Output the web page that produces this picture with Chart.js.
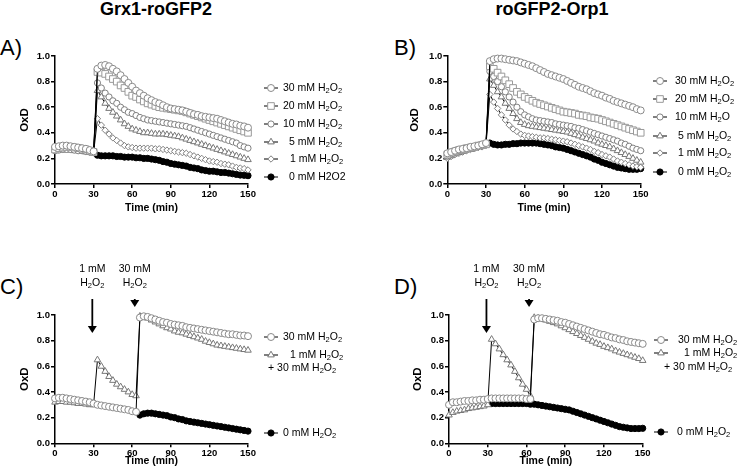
<!DOCTYPE html>
<html>
<head>
<meta charset="utf-8">
<script src="https://cdn.jsdelivr.net/npm/chart.js@4.4.1/dist/chart.umd.min.js"></script>
<style>
  body { margin: 0; background: #fff; }
  #wrap { position: relative; width: 738px; height: 474px; overflow: hidden; font-family: Arial, 'Liberation Sans', sans-serif; color: #000; }
  canvas { position: absolute; }
  .title { position: absolute; top: -1px; font-size: 18px; font-weight: bold; white-space: nowrap; transform: translateX(-50%); }
  .plabel { position: absolute; font-size: 22px; }
</style>
</head>
<body>
<div id="wrap">
  <div class="title" style="left:156px;">Grx1-roGFP2</div>
  <div class="title" style="left:552px;">roGFP2-Orp1</div>
  <div class="plabel" style="left:0px;top:35px;">A)</div>
  <div class="plabel" style="left:394px;top:35px;">B)</div>
  <div class="plabel" style="left:0px;top:274px;">C)</div>
  <div class="plabel" style="left:394px;top:274px;">D)</div>
  <canvas id="chartA" width="369" height="230" style="left:0px;top:0px;"></canvas>
  <canvas id="chartB" width="368" height="230" style="left:370px;top:0px;"></canvas>
  <canvas id="chartC" width="369" height="224" style="left:0px;top:250px;"></canvas>
  <canvas id="chartD" width="368" height="224" style="left:370px;top:250px;"></canvas>
</div>
<script>
// time points (min)
const times = [0,3,6,9,12,15,18,21,24,27,30,33,36,39,42,45,48,51,54,57,60,63,66,69,72,75,78,81,84,87,90,93,96,99,102,105,108,111,114,117,120,123,126,129,132,135,138,141,144,147,150];

// A) Grx1-roGFP2
const a30 = [0.29,0.295,0.30,0.30,0.295,0.29,0.285,0.28,0.275,0.265,0.255,
  0.90,0.925,0.93,0.92,0.90,0.88,0.85,0.82,0.79,0.76,0.73,0.71,0.69,0.67,0.655,0.64,0.63,0.615,0.60,0.59,
  0.585,0.58,0.575,0.565,0.555,0.545,0.54,0.53,0.525,0.52,0.515,0.51,0.50,0.49,0.48,0.47,0.465,0.455,0.45,0.44];
const a20 = [0.27,0.28,0.285,0.29,0.29,0.285,0.28,0.275,0.27,0.26,0.25,
  0.875,0.87,0.86,0.84,0.82,0.80,0.77,0.75,0.72,0.69,0.68,0.66,0.645,0.63,0.62,0.61,0.60,0.595,0.59,0.585,
  0.58,0.575,0.57,0.56,0.55,0.54,0.53,0.52,0.51,0.50,0.49,0.48,0.47,0.46,0.45,0.44,0.43,0.42,0.41,0.40];
const a10 = [0.26,0.265,0.27,0.27,0.27,0.265,0.26,0.26,0.255,0.25,0.245,
  0.79,0.75,0.71,0.68,0.65,0.63,0.60,0.58,0.56,0.55,0.535,0.52,0.51,0.50,0.495,0.49,0.485,0.48,0.475,0.47,
  0.465,0.46,0.455,0.45,0.44,0.43,0.42,0.41,0.40,0.39,0.38,0.37,0.36,0.35,0.34,0.33,0.32,0.30,0.29,0.28];
const a5 = [0.26,0.265,0.265,0.265,0.265,0.26,0.26,0.255,0.25,0.245,0.24,
  0.73,0.68,0.63,0.59,0.56,0.53,0.50,0.47,0.45,0.43,0.42,0.41,0.40,0.40,0.395,0.39,0.39,0.39,0.385,0.38,
  0.375,0.37,0.36,0.35,0.34,0.33,0.32,0.31,0.30,0.29,0.28,0.27,0.26,0.25,0.24,0.23,0.22,0.21,0.20,0.19];
const a1 = [0.265,0.27,0.275,0.275,0.27,0.27,0.265,0.26,0.255,0.25,0.245,
  0.51,0.46,0.42,0.39,0.36,0.34,0.32,0.30,0.29,0.285,0.28,0.28,0.28,0.28,0.28,0.275,0.275,0.27,0.265,0.26,
  0.255,0.25,0.245,0.24,0.23,0.22,0.21,0.20,0.19,0.18,0.175,0.17,0.16,0.155,0.15,0.14,0.13,0.125,0.12,0.11];
const a0 = [null,null,null,null,null,null,null,null,null,null,null,
  0.225,0.22,0.22,0.22,0.22,0.215,0.215,0.21,0.21,0.21,0.205,0.205,0.20,0.20,0.195,0.19,0.185,0.175,0.17,0.16,
  0.155,0.15,0.145,0.14,0.13,0.125,0.12,0.11,0.105,0.10,0.10,0.095,0.09,0.09,0.085,0.08,0.075,0.07,0.068,0.065];

// B) roGFP2-Orp1
const b30 = [0.24,0.25,0.26,0.27,0.275,0.28,0.29,0.295,0.30,0.31,0.32,
  0.96,0.975,0.98,0.98,0.975,0.97,0.965,0.96,0.95,0.94,0.93,0.92,0.905,0.89,0.875,0.86,0.85,0.84,0.83,0.82,
  0.805,0.79,0.775,0.76,0.75,0.74,0.725,0.71,0.70,0.69,0.675,0.665,0.65,0.64,0.63,0.62,0.61,0.60,0.585,0.575];
const b20 = [0.23,0.245,0.255,0.265,0.27,0.28,0.285,0.29,0.30,0.305,0.31,
  0.92,0.90,0.87,0.84,0.81,0.78,0.75,0.72,0.70,0.68,0.665,0.65,0.635,0.625,0.615,0.605,0.595,0.585,0.575,0.565,
  0.56,0.555,0.55,0.54,0.535,0.53,0.52,0.515,0.51,0.50,0.49,0.48,0.47,0.46,0.45,0.44,0.43,0.42,0.41,0.40];
const b10 = [0.22,0.235,0.245,0.255,0.265,0.275,0.28,0.29,0.295,0.30,0.31,
  0.88,0.84,0.80,0.76,0.72,0.68,0.64,0.60,0.565,0.54,0.525,0.51,0.50,0.495,0.49,0.485,0.48,0.47,0.465,0.46,
  0.455,0.45,0.44,0.435,0.425,0.415,0.405,0.395,0.385,0.375,0.365,0.355,0.345,0.335,0.32,0.31,0.295,0.28,0.27,0.26];
const b5 = [0.21,0.22,0.235,0.245,0.255,0.265,0.27,0.28,0.29,0.295,0.30,
  0.82,0.77,0.72,0.68,0.63,0.59,0.55,0.51,0.48,0.465,0.455,0.45,0.445,0.44,0.435,0.43,0.425,0.42,0.415,0.41,
  0.405,0.395,0.385,0.375,0.365,0.355,0.345,0.335,0.32,0.31,0.30,0.29,0.275,0.26,0.245,0.23,0.215,0.20,0.185,0.17];
const b1 = [0.20,0.215,0.23,0.24,0.25,0.26,0.27,0.275,0.285,0.29,0.30,
  0.70,0.64,0.59,0.54,0.50,0.46,0.43,0.41,0.39,0.38,0.375,0.37,0.365,0.36,0.36,0.355,0.35,0.345,0.34,0.335,
  0.33,0.32,0.31,0.30,0.29,0.28,0.27,0.255,0.245,0.23,0.22,0.21,0.195,0.18,0.17,0.16,0.15,0.14,0.135,0.13];
const b0 = [null,null,null,null,null,null,null,null,null,null,null,
  0.32,0.31,0.305,0.305,0.31,0.31,0.315,0.315,0.32,0.32,0.32,0.32,0.32,0.315,0.31,0.305,0.30,0.29,0.285,0.28,
  0.27,0.26,0.25,0.24,0.23,0.22,0.21,0.195,0.185,0.17,0.16,0.15,0.14,0.13,0.125,0.12,0.115,0.115,0.115,0.12];

// C) Grx1-roGFP2, two additions
const c30 = [0.35,0.355,0.355,0.35,0.345,0.34,0.335,0.33,0.325,0.32,0.31,
  0.30,0.295,0.29,0.285,0.28,0.275,0.27,0.265,0.26,0.25,0.245,
  0.98,0.99,0.985,0.975,0.965,0.955,0.945,0.94,0.93,0.925,0.92,0.915,0.905,0.90,0.895,
  0.89,0.885,0.88,0.875,0.87,0.865,0.86,0.855,0.85,0.85,0.845,0.84,0.84,0.835];
const c1p30 = [0.32,0.325,0.325,0.32,0.32,0.315,0.31,0.31,0.305,0.30,0.30,
  0.65,0.60,0.56,0.52,0.49,0.46,0.44,0.42,0.40,0.38,0.37,
  0.99,0.985,0.975,0.96,0.945,0.93,0.915,0.90,0.89,0.875,0.865,0.86,0.85,0.84,0.83,
  0.82,0.81,0.795,0.785,0.775,0.765,0.76,0.755,0.75,0.745,0.74,0.735,0.73,0.725];
const c0 = [null,null,null,null,null,null,null,null,null,null,null,
  null,null,null,null,null,null,null,null,null,null,null,
  0.22,0.23,0.235,0.235,0.23,0.225,0.22,0.215,0.205,0.20,0.19,0.185,0.175,0.17,0.165,
  0.16,0.155,0.15,0.145,0.14,0.135,0.13,0.125,0.12,0.115,0.11,0.105,0.10,0.095];

// D) roGFP2-Orp1, two additions
const d30 = [0.30,0.32,0.32,0.325,0.33,0.33,0.335,0.335,0.34,0.34,0.345,
  0.35,0.35,0.35,0.35,0.35,0.35,0.35,0.35,0.35,0.345,0.345,
  0.965,0.975,0.975,0.97,0.965,0.96,0.955,0.945,0.94,0.93,0.92,0.91,0.90,0.89,0.88,
  0.87,0.86,0.85,0.845,0.835,0.825,0.82,0.81,0.805,0.795,0.79,0.785,0.78,0.775];
const d1p30 = [0.22,0.24,0.25,0.255,0.26,0.27,0.275,0.28,0.285,0.29,0.30,
  0.81,0.775,0.735,0.69,0.65,0.61,0.56,0.51,0.46,0.42,0.37,
  0.98,0.975,0.97,0.96,0.95,0.94,0.93,0.915,0.90,0.885,0.87,0.855,0.84,0.825,0.81,
  0.795,0.78,0.77,0.755,0.745,0.735,0.72,0.71,0.70,0.69,0.68,0.67,0.66,0.645];
const d0 = [null,null,null,null,null,null,null,null,null,null,null,
  0.31,0.31,0.31,0.31,0.31,0.31,0.31,0.31,0.31,0.31,0.305,0.305,0.30,0.295,0.29,0.285,0.28,0.275,0.27,0.265,
  0.26,0.25,0.24,0.23,0.22,0.21,0.20,0.19,0.18,0.17,0.16,0.15,0.14,0.13,0.125,0.12,0.115,0.115,0.115,0.117];

// times of the H2O2 additions marked with arrows in C and D
const arrowTimes = [29, 62];
const arrowText = [['1 mM', 'H₂O₂'], ['30 mM', 'H₂O₂']];

const xTicks = [0, 30, 60, 90, 120, 150];
const yTicks = [0, 0.2, 0.4, 0.6, 0.8, 1.0];

const FONT = "Arial, 'Liberation Sans', sans-serif";
Chart.defaults.font.family = FONT;
Chart.defaults.color = '#000';

// marker styles
const sCircle = { pointStyle: 'circle', pointRadius: 3.5, pointBorderColor: '#8a8a8a', pointBackgroundColor: '#fff' };
const sSquare = { pointStyle: 'rect', pointRadius: 4.7, pointBorderColor: '#999', pointBackgroundColor: '#fff' };
const sCircle2 = { pointStyle: 'circle', pointRadius: 3.1, pointBorderColor: '#808080', pointBackgroundColor: '#fff' };
const sTri = { pointStyle: 'triangle', pointRadius: 3.8, pointBorderColor: '#777', pointBackgroundColor: '#fff' };
const sDia = { pointStyle: 'rectRot', pointRadius: 3.2, pointBorderColor: '#808080', pointBackgroundColor: '#fff' };
const sDot = { pointStyle: 'circle', pointRadius: 3.1, pointBorderColor: '#000', pointBackgroundColor: '#000' };

function series(label, values, style) {
    return Object.assign({
        label: label,
        data: times.map((t, i) => ({ x: t, y: values[i] })),
        borderColor: '#000',
        borderWidth: 1,
        pointBorderWidth: 1,
        pointHoverRadius: 0,
        clip: false,
        spanGaps: false
    }, style);
}

// text with subscript "₂"
function drawRich(ctx, txt, x, y, align) {
    const parts = [];
    for (const ch of txt) {
        const sub = ch === '₂';
        const c = sub ? '2' : ch;
        if (parts.length && parts[parts.length - 1].sub === sub) parts[parts.length - 1].s += c;
        else parts.push({ sub: sub, s: c });
    }
    let w = 0;
    parts.forEach(p => {
        ctx.font = p.sub ? '7.5px ' + FONT : '10.5px ' + FONT;
        p.w = ctx.measureText(p.s).width;
        w += p.w;
    });
    let cx = align === 'center' ? x - w / 2 : x;
    ctx.textAlign = 'left';
    ctx.textBaseline = 'middle';
    ctx.fillStyle = '#000';
    parts.forEach(p => {
        ctx.font = p.sub ? '7.5px ' + FONT : '10.5px ' + FONT;
        ctx.fillText(p.s, cx, p.sub ? y + 3 : y);
        cx += p.w;
    });
}

const sideLegend = {
    id: 'sideLegend',
    afterDraw(chart, args, opts) {
        const ctx = chart.ctx;
        ctx.save();
        opts.items.forEach(it => {
            if (it.ds != null) {
                const ds = chart.data.datasets[it.ds];
                ctx.strokeStyle = '#000';
                ctx.lineWidth = 1;
                ctx.beginPath();
                ctx.moveTo(opts.mx - 7, it.y);
                ctx.lineTo(opts.mx + 7, it.y);
                ctx.stroke();
                ctx.fillStyle = ds.pointBackgroundColor;
                ctx.strokeStyle = ds.pointBorderColor;
                Chart.helpers.drawPoint(ctx, { pointStyle: ds.pointStyle, radius: ds.pointRadius, borderWidth: 1, rotation: 0 }, opts.mx, it.y);
            }
            drawRich(ctx, it.text, it.x, it.y, 'left');
        });
        ctx.restore();
    }
};

const additionArrows = {
    id: 'additionArrows',
    afterDraw(chart, args, opts) {
        if (!opts.arrows) return;
        const ctx = chart.ctx;
        const xs = chart.scales.x;
        ctx.save();
        opts.arrows.forEach((a, i) => {
            const x = xs.getPixelForValue(arrowTimes[i]);
            drawRich(ctx, arrowText[i][0], x, opts.textY[0], 'center');
            drawRich(ctx, arrowText[i][1], x, opts.textY[1], 'center');
            ctx.strokeStyle = '#000';
            ctx.fillStyle = '#000';
            ctx.lineWidth = 1.8;
            ctx.beginPath();
            ctx.moveTo(x, a.y1);
            ctx.lineTo(x, a.y2 - 6);
            ctx.stroke();
            ctx.beginPath();
            ctx.moveTo(x - 4.5, a.y2 - 7);
            ctx.lineTo(x + 4.5, a.y2 - 7);
            ctx.lineTo(x, a.y2);
            ctx.closePath();
            ctx.fill();
        });
        ctx.restore();
    }
};

function makeChart(id, datasets, lay, legend, arrows) {
    const ctx = document.getElementById(id).getContext('2d');
    return new Chart(ctx, {
        type: 'line',
        data: { datasets: datasets },
        plugins: [sideLegend, additionArrows],
        options: {
            responsive: false,
            animation: false,
            events: [],
            layout: { padding: { left: 0, top: lay.top, right: lay.right, bottom: 0 } },
            plugins: {
                legend: { display: false },
                tooltip: { enabled: false },
                sideLegend: legend,
                additionArrows: arrows || {}
            },
            scales: {
                x: {
                    type: 'linear',
                    min: 0,
                    max: 150,
                    afterFit: s => { s.height = lay.xH; },
                    afterBuildTicks: s => { s.ticks = xTicks.map(v => ({ value: v })); },
                    ticks: { autoSkip: false, maxRotation: 0, padding: lay.xTickPad, color: '#000', font: { size: 9.5, weight: 'bold' } },
                    grid: { display: true, drawOnChartArea: false, tickLength: 4, color: '#000', lineWidth: 1.5 },
                    border: { display: true, color: '#000', width: 1.5 },
                    title: { display: true, text: 'Time (min)', color: '#000', font: { size: 10.5, weight: 'bold' }, padding: { top: 0, bottom: lay.xTitlePad } }
                },
                y: {
                    min: 0,
                    max: 1,
                    afterFit: s => { s.width = lay.yW; },
                    afterBuildTicks: s => { s.ticks = yTicks.map(v => ({ value: v })); },
                    ticks: { padding: 1, color: '#000', font: { size: 9.5, weight: 'bold' }, callback: v => v.toFixed(1) },
                    grid: { display: true, drawOnChartArea: false, tickLength: 4, color: '#000', lineWidth: 1.5 },
                    border: { display: true, color: '#000', width: 1.5 },
                    title: { display: true, text: 'OxD', color: '#000', font: { size: 11.5, weight: 'bold' }, padding: { top: lay.yTitlePad, bottom: 0 } }
                }
            }
        }
    });
}

makeChart('chartA', [
    series('30 mM H₂O₂', a30, sCircle),
    series('20 mM H₂O₂', a20, sSquare),
    series('10 mM H₂O₂', a10, sCircle2),
    series('5 mM H₂O₂', a5, sTri),
    series('1 mM H₂O₂', a1, sDia),
    series('0 mM H2O2', a0, sDot)
], { top: 56, right: 121, yW: 55, yTitlePad: 17.5, xH: 46, xTitlePad: 15.7, xTickPad: 1 }, {
    mx: 271,
    items: [
        { ds: 0, text: '30 mM H₂O₂', x: 283, y: 88 },
        { ds: 1, text: '20 mM H₂O₂', x: 283, y: 106 },
        { ds: 2, text: '10 mM H₂O₂', x: 283, y: 124 },
        { ds: 3, text: '5 mM H₂O₂', x: 289, y: 142 },
        { ds: 4, text: '1 mM H₂O₂', x: 290, y: 159 },
        { ds: 5, text: '0 mM H2O2', x: 289, y: 177 }
    ]
});

makeChart('chartB', [
    series('30 mM H₂O₂', b30, sCircle),
    series('20 mM H₂O₂', b20, sSquare),
    series('10 mM H₂O', b10, sCircle2),
    series('5 mM H₂O₂', b5, sTri),
    series('1 mM H₂O₂', b1, sDia),
    series('0 mM H₂O₂', b0, sDot)
], { top: 56, right: 97.3, yW: 77.3, yTitlePad: 37.5, xH: 46, xTitlePad: 15.7, xTickPad: 1 }, {
    mx: 290,
    items: [
        { ds: 0, text: '30 mM H₂O₂', x: 305, y: 81 },
        { ds: 1, text: '20 mM H₂O₂', x: 305, y: 99 },
        { ds: 2, text: '10 mM H₂O', x: 305, y: 117 },
        { ds: 3, text: '5 mM H₂O₂', x: 308, y: 136 },
        { ds: 4, text: '1 mM H₂O₂', x: 308, y: 153 },
        { ds: 5, text: '0 mM H₂O₂', x: 308, y: 172 }
    ]
});

makeChart('chartC', [
    series('30 mM H₂O₂', c30, sCircle),
    series('1 mM H₂O₂ + 30 mM H₂O₂', c1p30, sTri),
    series('0 mM H₂O₂', c0, sDot)
], { top: 65, right: 121, yW: 55, yTitlePad: 17.5, xH: 30.7, xTitlePad: 6.5, xTickPad: 0 }, {
    mx: 271,
    items: [
        { ds: 0, text: '30 mM H₂O₂', x: 283, y: 87 },
        { ds: 1, text: '1 mM H₂O₂', x: 290, y: 105 },
        { ds: null, text: '+ 30 mM H₂O₂', x: 268, y: 118 },
        { ds: 2, text: '0 mM H₂O₂', x: 283, y: 183 }
    ]
}, { textY: [19, 33], arrows: [{ y1: 49, y2: 83 }, { y1: 49, y2: 57 }] });

makeChart('chartD', [
    series('30 mM H₂O₂', d30, sCircle),
    series('1 mM H₂O₂ + 30 mM H₂O₂', d1p30, sTri),
    series('0 mM H₂O₂', d0, sDot)
], { top: 65, right: 95.3, yW: 79, yTitlePad: 41, xH: 30.7, xTitlePad: 6.5, xTickPad: 0 }, {
    mx: 291,
    items: [
        { ds: 0, text: '30 mM H₂O₂', x: 308, y: 90 },
        { ds: 1, text: '1 mM H₂O₂', x: 314, y: 103 },
        { ds: null, text: '+ 30 mM H₂O₂', x: 294, y: 117 },
        { ds: 2, text: '0 mM H₂O₂', x: 307, y: 182 }
    ]
}, { textY: [19, 33], arrows: [{ y1: 49, y2: 83 }, { y1: 49, y2: 57 }] });
</script>
</body>
</html>
